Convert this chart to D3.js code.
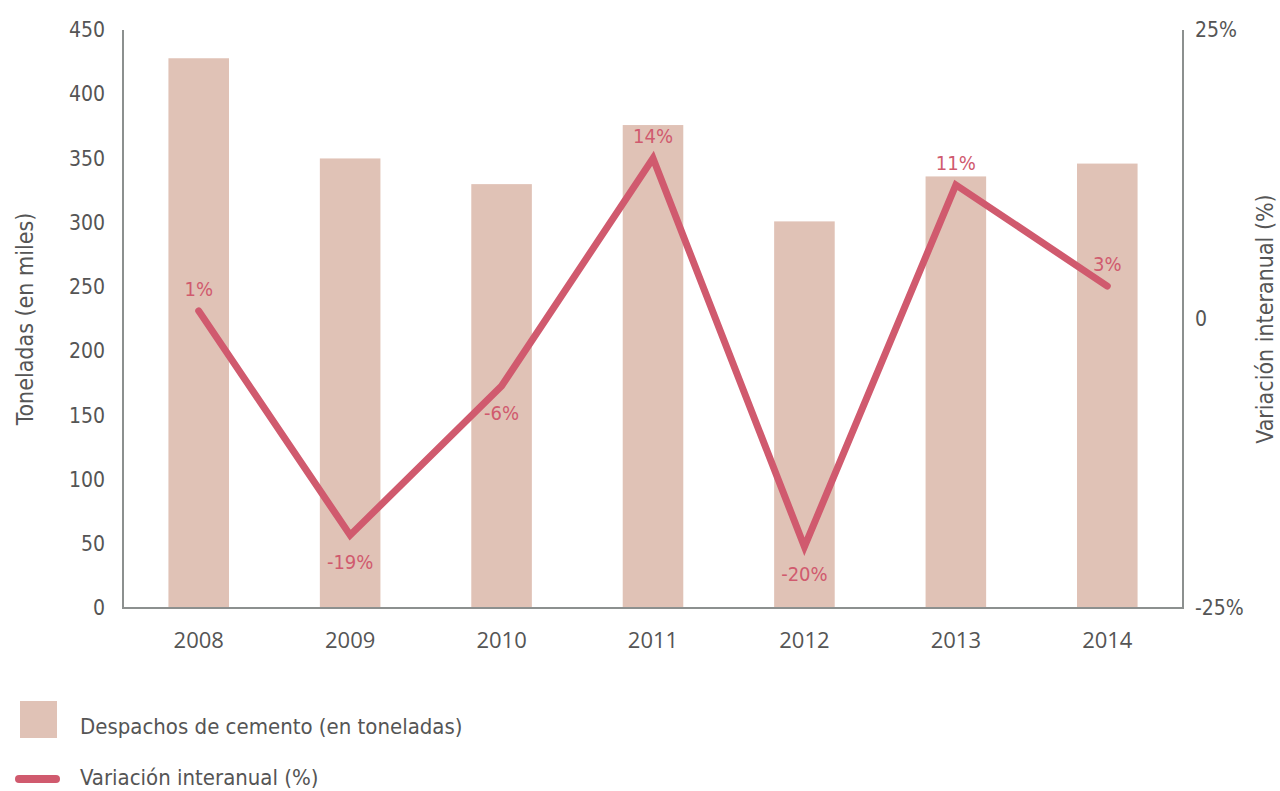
<!DOCTYPE html>
<html>
<head>
<meta charset="utf-8">
<script src="https://cdn.jsdelivr.net/npm/d3@7"></script>
<style>
  body { margin: 0; background: #fff; }
  text { font-family: "Liberation Sans Narrow", "DejaVu Sans Condensed", "Roboto", sans-serif; fill: #555; }
  .year text { font-family: "Open Sans", sans-serif; }
</style>
</head>
<body>
<div id="chart-area"></div>
<script>
// data
let years = ["2008", "2009", "2010", "2011", "2012", "2013", "2014"];
let despachos = [428, 350, 330, 376, 301, 336, 346];
let variacion = [0.7, -18.7, -5.8, 13.9, -19.7, 11.6, 2.85];
let variacionLabels = ["1%", "-19%", "-6%", "14%", "-20%", "11%", "3%"];
let leftTicks = [0, 50, 100, 150, 200, 250, 300, 350, 400, 450];
let rightTicks = [-25, 0, 25];

let barColor = "#e0c2b6";
let lineColor = "#d05a6e";
let axisColor = "#8c908f";

let W = 1280, H = 791;
let margin = {top: 30, right: 97, bottom: 183, left: 123};
let width = W - margin.left - margin.right;
let height = H - margin.top - margin.bottom;

let svg = d3.select("#chart-area").append("svg")
	.attr("width", W)
	.attr("height", H);

let g = svg.append("g")
	.attr("transform", "translate(" + margin.left + "," + margin.top + ")");

// scales
let x = d3.scaleBand()
	.domain(years)
	.range([0, width])
	.paddingInner(0.6)
	.paddingOuter(0.3);

let yLeft = d3.scaleLinear()
	.domain([0, 450])
	.range([height, 0]);

let yRight = d3.scaleLinear()
	.domain([-25, 25])
	.range([height, 0]);

// bars
g.selectAll(".bar")
	.data(despachos)
	.enter()
	.append("rect")
	.attr("class", "bar")
	.attr("x", (d, i) => x(years[i]))
	.attr("width", x.bandwidth())
	.attr("y", d => yLeft(d))
	.attr("height", d => height - yLeft(d))
	.attr("fill", barColor);

// axis frame: left, bottom, right
g.append("path")
	.attr("d", `M0,0V${height}H${width}V0`)
	.attr("fill", "none")
	.attr("stroke", axisColor)
	.attr("stroke-width", 2);

// left ticks
let leftAxis = d3.axisLeft(yLeft).tickValues(leftTicks).tickSize(0).tickPadding(18);
let lg = g.append("g").call(leftAxis);
lg.select(".domain").remove();
lg.selectAll("text").style("font-size", "21px").attr("fill", "#555");

// right ticks
let rightAxis = d3.axisRight(yRight).tickValues(rightTicks).tickSize(0).tickPadding(12)
	.tickFormat(d => d === 0 ? "0" : d + "%");
let rg = g.append("g").attr("transform", `translate(${width},0)`).call(rightAxis);
rg.select(".domain").remove();
rg.selectAll("text").style("font-size", "21px").attr("fill", "#555");

// bottom ticks
let xAxis = d3.axisBottom(x).tickSize(0).tickPadding(24);
let xg = g.append("g").attr("class", "year").attr("transform", `translate(0,${height})`).call(xAxis);
xg.select(".domain").remove();
xg.selectAll("text").style("font-size", "22px").attr("fill", "#555");

// line
let line = d3.line()
	.x((d, i) => x(years[i]) + x.bandwidth() / 2)
	.y(d => yRight(d));

g.append("path")
	.datum(variacion)
	.attr("d", line)
	.attr("fill", "none")
	.attr("stroke", lineColor)
	.attr("stroke-width", 7)
	.attr("stroke-linecap", "round")
	.attr("stroke-linejoin", "miter");

// value labels
g.selectAll(".vlabel")
	.data(variacion)
	.enter()
	.append("text")
	.attr("class", "vlabel")
	.attr("x", (d, i) => x(years[i]) + x.bandwidth() / 2)
	.attr("y", d => d >= 0 ? yRight(d) - 15 : yRight(d) + 34)
	.attr("text-anchor", "middle")
	.style("font-size", "20px")
	.style("fill", lineColor)
	.text((d, i) => variacionLabels[i]);

// axis titles
svg.append("text")
	.attr("transform", `translate(33,${margin.top + height / 2}) rotate(-90)`)
	.attr("text-anchor", "middle")
	.style("font-size", "23px")
	.text("Toneladas (en miles)");

svg.append("text")
	.attr("transform", `translate(1273,${margin.top + height / 2}) rotate(-90)`)
	.attr("text-anchor", "middle")
	.style("font-size", "23px")
	.text("Variación interanual (%)");

// legend
svg.append("rect")
	.attr("x", 20).attr("y", 701)
	.attr("width", 37).attr("height", 37)
	.attr("fill", barColor);
svg.append("text")
	.attr("x", 80).attr("y", 734)
	.style("font-size", "22px")
	.text("Despachos de cemento (en toneladas)");

svg.append("line")
	.attr("x1", 19).attr("x2", 56)
	.attr("y1", 779).attr("y2", 779)
	.attr("stroke", lineColor)
	.attr("stroke-width", 8)
	.attr("stroke-linecap", "round");
svg.append("text")
	.attr("x", 80).attr("y", 785)
	.style("font-size", "22px")
	.text("Variación interanual (%)");
</script>
</body>
</html>
